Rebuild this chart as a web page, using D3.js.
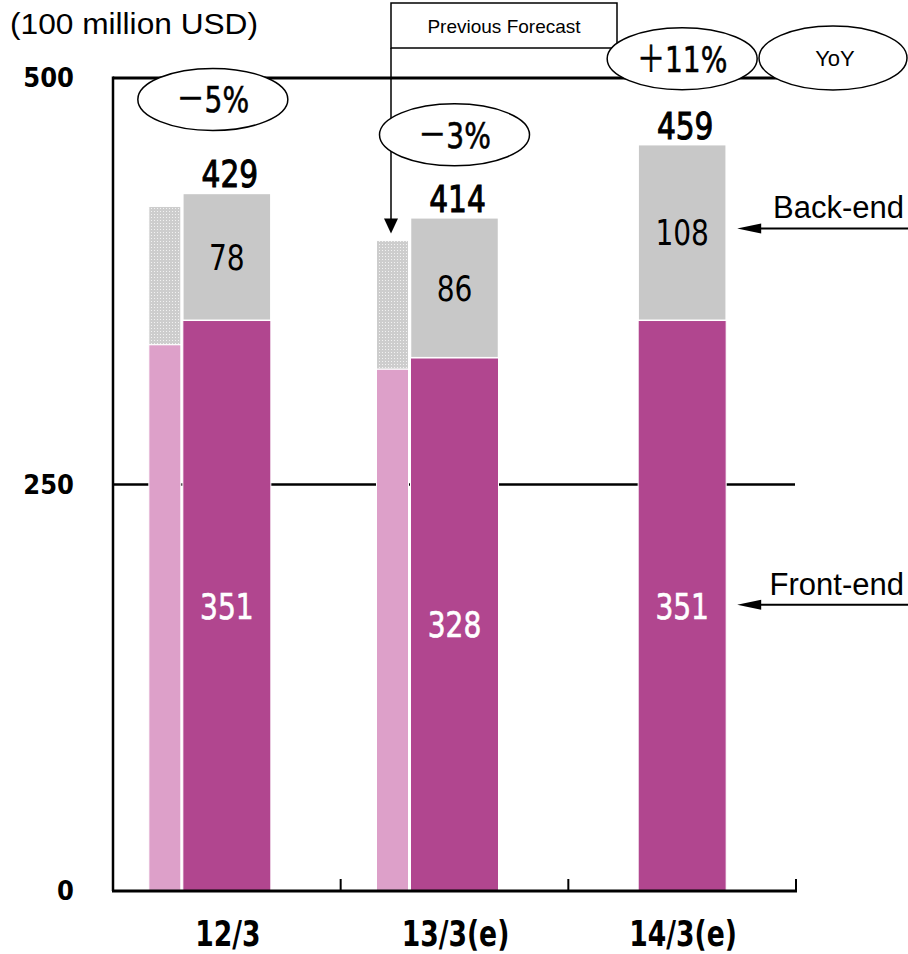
<!DOCTYPE html>
<html>
<head>
<meta charset="utf-8">
<script src="https://cdn.jsdelivr.net/npm/d3@7"></script>
<style>
  html, body { margin: 0; padding: 0; background: #fff; }
  svg { display: block; }
</style>
</head>
<body>
<svg id="chart" width="908" height="954"></svg>
<script>
// Fiscal years and segment values (100 million USD)
const categories = ["12/3", "13/3(e)", "14/3(e)"];
const frontEnd = [351, 328, 351];
const backEnd = [78, 86, 108];
const totals = [429, 414, 459];
// Previous forecast (thin bars); no previous forecast for 14/3
const prevFront = [336, 321, null];
const prevBack = [85, 79, null];
const yoyLabels = ["－5%", "－3%", "＋11%"];
const yTicks = [0, 250, 500];

const colors = {
  front: "#B1468F",
  frontPrev: "#DDA0C9",
  back: "#C8C8C8"
};

const svg = d3.select("#chart");

const x = d3.scaleBand().domain(categories).range([113, 796]).padding(0);
const y = d3.scaleLinear().domain([0, 500]).range([891, 78]);
const cx = c => x(c) + x.bandwidth() / 2;

const mainW = 88, thinW = 32, thinGap = 2;

// condensed digit text via horizontal scaling
function ctext(g, px, py, str, opts) {
  const o = Object.assign({ size: 32, sx: 0.8, weight: "normal", fill: "#000", anchor: "middle",
    family: "'DejaVu Sans', sans-serif", stroke: null, sw: 0 }, opts || {});
  const t = g.append("text")
    .attr("transform", `translate(${px},${py}) scale(${o.sx},1)`)
    .attr("text-anchor", o.anchor)
    .attr("font-family", o.family)
    .attr("font-size", o.size)
    .attr("font-weight", o.weight)
    .attr("fill", o.fill)
    .text(str);
  if (o.stroke) t.attr("stroke", o.stroke).attr("stroke-width", o.sw);
  return t;
}

// dotted fill for previous back-end forecast
const defs = svg.append("defs");
const pat = defs.append("pattern").attr("id", "dots")
  .attr("width", 3).attr("height", 3).attr("patternUnits", "userSpaceOnUse");
pat.append("rect").attr("width", 3).attr("height", 3).attr("fill", "#CDCDCD");
pat.append("rect").attr("x", 1).attr("y", 1).attr("width", 1).attr("height", 1).attr("fill", "#F2F2F2");

// unit caption
svg.append("text").attr("x", 10).attr("y", 34)
  .attr("font-family", "'Liberation Sans', Arial, sans-serif")
  .attr("font-size", 29)
  .attr("textLength", 248).attr("lengthAdjust", "spacingAndGlyphs")
  .text("(100 million USD)");

// gridlines at 250 and 500
const grid = svg.append("g");
grid.selectAll("line").data(yTicks.filter(d => d > 0)).join("line")
  .attr("x1", 113).attr("x2", 795)
  .attr("y1", d => y(d)).attr("y2", d => y(d))
  .attr("stroke", "#000").attr("stroke-width", d => d === 500 ? 3 : 2.5);

// left axis line
svg.append("line").attr("x1", 113).attr("x2", 113).attr("y1", y(500) - 1.5).attr("y2", y(0))
  .attr("stroke", "#000").attr("stroke-width", 2.5);

// y tick labels
const yAxis = d3.axisLeft(y).tickValues(yTicks).tickSize(0).tickFormat(d3.format("d"));
const yg = svg.append("g").attr("transform", "translate(74,0)").call(yAxis);
yg.select(".domain").remove();
yg.selectAll("text").remove();
yTicks.forEach(t => {
  ctext(yg, 0, y(t) + 9, String(t), { size: 27, sx: 0.9, weight: "bold", anchor: "end" });
});

// bars
const bars = svg.append("g");
categories.forEach((c, i) => {
  const mx = cx(c) - mainW / 2;
  // previous forecast thin bar
  if (prevFront[i] != null) {
    const tx = mx - thinGap - thinW;
    bars.append("rect").attr("x", tx).attr("width", thinW)
      .attr("y", y(prevFront[i])).attr("height", y(0) - y(prevFront[i]))
      .attr("fill", colors.frontPrev).attr("stroke", "#fff").attr("stroke-width", 1);
    bars.append("rect").attr("x", tx).attr("width", thinW)
      .attr("y", y(prevFront[i] + prevBack[i])).attr("height", y(prevFront[i]) - y(prevFront[i] + prevBack[i]))
      .attr("fill", "url(#dots)").attr("stroke", "#fff").attr("stroke-width", 1);
  }
  // front-end
  bars.append("rect").attr("x", mx).attr("width", mainW)
    .attr("y", y(frontEnd[i])).attr("height", y(0) - y(frontEnd[i]))
    .attr("fill", colors.front).attr("stroke", "#fff").attr("stroke-width", 1);
  // back-end
  bars.append("rect").attr("x", mx).attr("width", mainW)
    .attr("y", y(frontEnd[i] + backEnd[i])).attr("height", y(frontEnd[i]) - y(frontEnd[i] + backEnd[i]))
    .attr("fill", colors.back).attr("stroke", "#fff").attr("stroke-width", 1.5);

  // labels
  const fm = (y(0) + y(frontEnd[i])) / 2;
  const bm = (y(frontEnd[i]) + y(frontEnd[i] + backEnd[i])) / 2;
  ctext(bars, cx(c), fm + 13, String(frontEnd[i]), { size: 36, sx: 0.78, fill: "#fff", stroke: "#fff", sw: 0.7 });
  ctext(bars, cx(c), bm + 13, String(backEnd[i]), { size: 36, sx: 0.78 });
  ctext(bars, cx(c) + 3, y(totals[i]) - 6, String(totals[i]), { size: 38, sx: 0.78, stroke: "#000", sw: 1.1 });
});

// x axis baseline and boundary ticks
svg.append("line").attr("x1", 112).attr("x2", 797).attr("y1", y(0)).attr("y2", y(0))
  .attr("stroke", "#000").attr("stroke-width", 3);
svg.append("g").selectAll("line").data(categories).join("line")
  .attr("x1", c => x(c) + x.bandwidth()).attr("x2", c => x(c) + x.bandwidth())
  .attr("y1", y(0)).attr("y2", y(0) - 12)
  .attr("stroke", "#000").attr("stroke-width", 2);

const xAxis = d3.axisBottom(x).tickSize(0);
const xg = svg.append("g").attr("transform", `translate(0,${y(0)})`).call(xAxis);
xg.select(".domain").remove();
xg.selectAll("text").remove();
categories.forEach(c => {
  ctext(xg, cx(c) + 1, 55, c, { size: 36, sx: 0.74, weight: "bold" });
});

// YoY bubbles
const bubbleOffset = [[-14, -94], [0, -83], [0, -86]];
const bubbles = svg.append("g");
categories.forEach((c, i) => {
  const bx = cx(c) + bubbleOffset[i][0];
  const by = y(totals[i]) + bubbleOffset[i][1];
  bubbles.append("ellipse").attr("cx", bx).attr("cy", by).attr("rx", 75).attr("ry", 31)
    .attr("fill", "#fff").attr("stroke", "#000").attr("stroke-width", 1.5);
  ctext(bubbles, bx, by + 13, yoyLabels[i], { size: 36, sx: 0.78,
    family: "'DejaVu Sans', 'Noto Sans CJK JP', sans-serif", stroke: "#000", sw: 0.6 });
});

// Previous forecast callout
const pf = svg.append("g");
const thinTop = y(prevFront[1] + prevBack[1]);
pf.append("line").attr("x1", 391).attr("x2", 391).attr("y1", 48).attr("y2", thinTop - 14)
  .attr("stroke", "#000").attr("stroke-width", 1.5);
pf.append("path")
  .attr("d", `M${391 - 7},${thinTop - 22} L${391 + 7},${thinTop - 22} L391,${thinTop - 7} Z`)
  .attr("fill", "#000");
pf.append("rect").attr("x", 391).attr("y", 3).attr("width", 226).attr("height", 45)
  .attr("fill", "#fff").attr("stroke", "#000").attr("stroke-width", 1.5);
pf.append("text").attr("x", 504).attr("y", 33).attr("text-anchor", "middle")
  .attr("font-family", "'Liberation Sans', Arial, sans-serif").attr("font-size", 19)
  .text("Previous Forecast");

// bubbles sit above the callout box
bubbles.raise();

// YoY legend bubble
svg.append("ellipse").attr("cx", 833).attr("cy", 58).attr("rx", 74).attr("ry", 32)
  .attr("fill", "#fff").attr("stroke", "#000").attr("stroke-width", 1.5);
svg.append("text").attr("x", 835).attr("y", 66).attr("text-anchor", "middle")
  .attr("font-family", "'Liberation Sans', Arial, sans-serif").attr("font-size", 22).text("YoY");

// segment legend arrows
const lastC = categories[2];
const tipX = cx(lastC) + mainW / 2 + 11;
const legendItems = [
  { label: "Back-end", yv: (y(frontEnd[2]) + y(totals[2])) / 2 - 4, ty: -10 },
  { label: "Front-end", yv: (y(0) + y(frontEnd[2])) / 2 - 1, ty: -10 }
];
const lg = svg.append("g");
legendItems.forEach(d => {
  lg.append("line").attr("x1", tipX + 18).attr("x2", 908).attr("y1", d.yv).attr("y2", d.yv)
    .attr("stroke", "#000").attr("stroke-width", 2);
  lg.append("path")
    .attr("d", `M${tipX},${d.yv} L${tipX + 24},${d.yv - 5} L${tipX + 24},${d.yv + 5} Z`)
    .attr("fill", "#000");
  lg.append("text").attr("x", 904).attr("y", d.yv + d.ty).attr("text-anchor", "end")
    .attr("font-family", "'Liberation Sans', Arial, sans-serif").attr("font-size", 31)
    .text(d.label);
});
</script>
</body>
</html>
